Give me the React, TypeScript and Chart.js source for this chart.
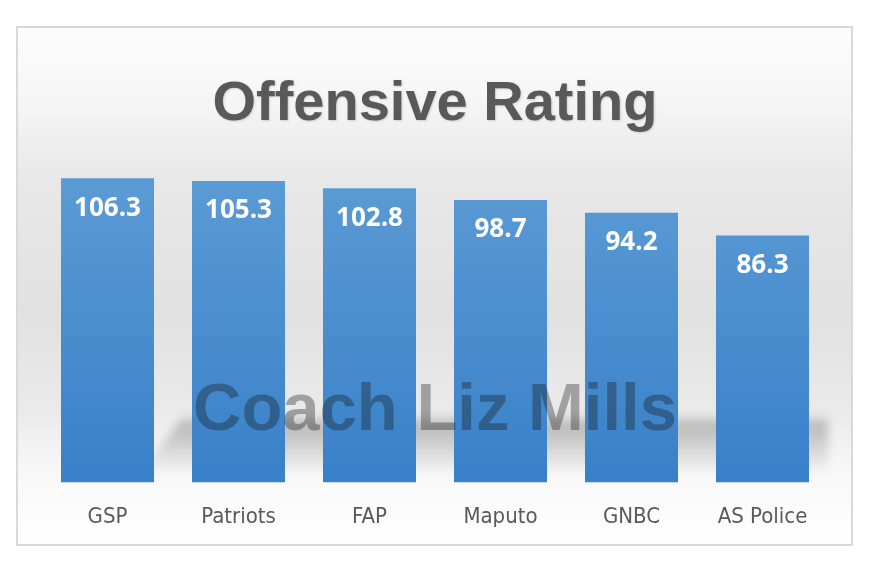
import React, { useEffect, useRef } from "react";
import { Chart, registerables } from "chart.js";

Chart.register(...registerables);

const categories = ["GSP", "Patriots", "FAP", "Maputo", "GNBC", "AS Police"];
const ratings = [106.3, 105.3, 102.8, 98.7, 94.2, 86.3];
const titleText = "Offensive Rating";
const watermarkText = "Coach Liz Mills";
const yMin = 0;
const yMax = 120;

const decorPlugin = {
  id: "decor",
  beforeDraw(chart: any) {
    const ctx = chart.ctx as CanvasRenderingContext2D;
    const W = chart.width;
    const H = chart.height;
    ctx.save();
    ctx.fillStyle = "#ffffff";
    ctx.fillRect(0, 0, W, H);
    // panel
    const bx = 17, by = 27, bw = 835, bh = 518;
    const g = ctx.createLinearGradient(0, by, 0, by + bh);
    g.addColorStop(0, "#fdfdfd");
    g.addColorStop(0.12, "#f7f7f7");
    g.addColorStop(0.3, "#e8e8e8");
    g.addColorStop(0.55, "#e1e1e1");
    g.addColorStop(0.74, "#eaeaea");
    g.addColorStop(0.86, "#f8f8f8");
    g.addColorStop(1, "#ffffff");
    ctx.fillStyle = g;
    ctx.fillRect(bx, by, bw, bh);
    // shadow band behind bars
    ctx.save();
    ctx.beginPath();
    ctx.rect(bx, by, bw, bh);
    ctx.clip();
    ctx.filter = "blur(5px)";
    const sg = ctx.createLinearGradient(0, 415, 0, 475);
    sg.addColorStop(0, "rgba(0,0,0,0.0)");
    sg.addColorStop(0.15, "rgba(0,0,0,0.22)");
    sg.addColorStop(0.55, "rgba(0,0,0,0.12)");
    sg.addColorStop(1, "rgba(0,0,0,0.0)");
    ctx.fillStyle = sg;
    ctx.beginPath();
    ctx.moveTo(185, 414);
    ctx.lineTo(828, 414);
    ctx.lineTo(828, 475);
    ctx.lineTo(140, 475);
    ctx.closePath();
    ctx.fill();
    ctx.restore();
    // border
    ctx.strokeStyle = "#d9d9d9";
    ctx.lineWidth = 2;
    ctx.strokeRect(bx, by, bw, bh);
    // title
    ctx.font = "bold 56px 'Liberation Sans', Arial, sans-serif";
    ctx.textAlign = "center";
    ctx.textBaseline = "alphabetic";
    ctx.shadowColor = "rgba(0,0,0,0.15)";
    ctx.shadowBlur = 2;
    ctx.shadowOffsetX = 1;
    ctx.shadowOffsetY = 1;
    ctx.fillStyle = "#595959";
    ctx.fillText(titleText, 435, 120);
    ctx.restore();
  },
  afterDatasetsDraw(chart: any) {
    const ctx = chart.ctx as CanvasRenderingContext2D;
    ctx.save();
    // watermark
    ctx.font = "bold 67px 'Liberation Sans', Arial, sans-serif";
    ctx.textAlign = "center";
    ctx.textBaseline = "alphabetic";
    ctx.fillStyle = "rgba(20,20,20,0.34)";
    ctx.fillText(watermarkText, 435, 430);
    // value labels
    const meta = chart.getDatasetMeta(0);
    ctx.font = "bold 26px 'Open Sans', sans-serif";
    ctx.fillStyle = "#ffffff";
    ctx.textBaseline = "middle";
    meta.data.forEach((bar: any, i: number) => {
      ctx.fillText(ratings[i].toFixed(1), bar.x, bar.y + 30);
    });
    ctx.restore();
  },
};

export default function App() {
  const ref = useRef<HTMLCanvasElement | null>(null);
  useEffect(() => {
    if (!ref.current) return;
    const chart = new Chart(ref.current, {
      type: "bar",
      data: {
        labels: categories,
        datasets: [
          {
            data: ratings,
            backgroundColor: (c: any) => {
              const area = c.chart.chartArea;
              if (!area) return "#4a8fd2";
              const gr = c.chart.ctx.createLinearGradient(0, area.top + 40, 0, area.bottom);
              gr.addColorStop(0, "#5b9bd5");
              gr.addColorStop(1, "#3880c8");
              return gr;
            },
            borderWidth: 0,
            barPercentage: 0.71,
            categoryPercentage: 1,
          },
        ],
      },
      options: {
        animation: false,
        responsive: true,
        maintainAspectRatio: false,
        layout: { padding: { left: 42, right: 44, top: 139, bottom: 19 } },
        plugins: {
          legend: { display: false },
          tooltip: { enabled: false },
          title: { display: false },
        },
        scales: {
          x: {
            grid: { display: false, drawTicks: false },
            border: { display: false },
            ticks: {
              padding: 21,
              color: "#595959",
              font: { family: "'DejaVu Sans Condensed', 'DejaVu Sans', sans-serif", style: "condensed" as any, size: 22 },
            },
          },
          y: { display: false, min: yMin, max: yMax },
        },
      },
      plugins: [decorPlugin],
    });
    return () => chart.destroy();
  }, []);
  return (
    <div style={{ position: "absolute", left: 0, top: 0, width: 872, height: 570 }}>
      <canvas ref={ref} />
    </div>
  );
}
